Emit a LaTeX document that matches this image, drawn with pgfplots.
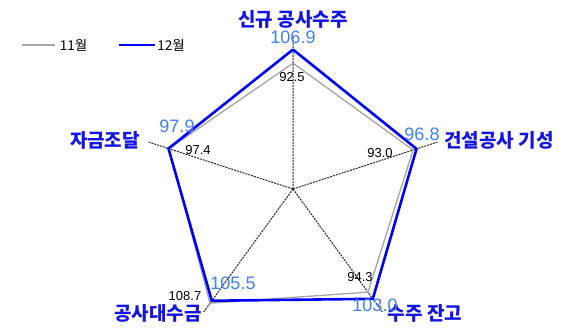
\documentclass[border=0pt]{standalone}
\usepackage{pgfplots}
\pgfplotsset{compat=1.18}
\usepgfplotslibrary{polar}
\usepackage{fontspec}
\setmainfont{Noto Sans CJK KR}
\newfontfamily\numfont{Liberation Sans}
\definecolor{catblue}{RGB}{20,20,230}
\definecolor{valblue}{RGB}{64,128,255}
\definecolor{linegray}{RGB}{165,165,165}
\definecolor{lineblue}{RGB}{0,0,255}

\begin{document}
\begin{tikzpicture}[x=1pt,y=1pt]
\begin{polaraxis}[
  width=303.8pt, height=303.8pt, scale only axis,
  y coord trafo/.code={\pgfmathparse{#1+40}},
  ymin=-40, ymax=120, xmin=0, xmax=360,
  xtick={18,90,162,234,306}, xticklabels={},
  ytick=\empty,
  grid=none, xmajorgrids=true,
  major grid style={black!85, dash pattern=on 2pt off 1pt, line width=1pt},
  axis line style={draw=none},
  major tick length=0pt,
  clip=false,
]
% 11월
\addplot[linegray, line width=1.3pt, line join=miter] coordinates {
  (90,92.5) (18,93.0) (306,94.3) (234,108.7) (162,97.4) (90,92.5)
};
% 12월
\addplot[lineblue, line width=2.6pt, line join=miter] coordinates {
  (90,106.9) (18,96.8) (306,103.0) (234,105.5) (162,97.9) (90,106.9)
};
\coordinate (c) at (axis cs:0,-40);
\end{polaraxis}

% category labels
\begin{scope}[every node/.style={inner sep=0pt, text=catblue, font=\fontsize{19}{19}\selectfont\bfseries}]
\node at ([shift={(0,169.5)}]c) {신규 공사수주};
\node at ([shift={(206,49)}]c) {건설공사 기성};
\node at ([shift={(132,-124)}]c) {수주 잔고};
\node at ([shift={(-135,-124)}]c) {공사대수금};
\node at ([shift={(-188,49)}]c) {자금조달};
\end{scope}

% 12월 values
\begin{scope}[every node/.style={inner sep=0pt, text=valblue, font=\numfont\fontsize{18}{18}\selectfont}]
\node at ([shift={(0,151.5)}]c) {106.9};
\node at ([shift={(129,55)}]c) {96.8};
\node at ([shift={(82,-116)}]c) {103.0};
\node at ([shift={(-60,-94.5)}]c) {105.5};
\node at ([shift={(-116,63)}]c) {97.9};
\end{scope}

% 11월 values
\begin{scope}[every node/.style={inner sep=0pt, text=black, font=\numfont\fontsize{13}{13}\selectfont}]
\node at ([shift={(-1,112)}]c) {92.5};
\node at ([shift={(87,36)}]c) {93.0};
\node at ([shift={(67,-88)}]c) {94.3};
\node at ([shift={(-108,-107)}]c) {108.7};
\node at ([shift={(-95,38.5)}]c) {97.4};
\end{scope}

% legend
\draw[linegray, line width=1.3pt] ([shift={(-271,144)}]c) -- ([shift={(-238,144)}]c);
\node[inner sep=0pt, font=\fontsize{13.5}{13.5}\selectfont] at ([shift={(-219.5,144)}]c) {11월};
\draw[lineblue, line width=2.6pt] ([shift={(-174,144)}]c) -- ([shift={(-138,144)}]c);
\node[inner sep=0pt, font=\fontsize{13.5}{13.5}\selectfont] at ([shift={(-122,144)}]c) {12월};

\pgfresetboundingbox
\useasboundingbox ([shift={(-293,-138)}]c) rectangle ([shift={(274,189)}]c);
\end{tikzpicture}
\end{document}
